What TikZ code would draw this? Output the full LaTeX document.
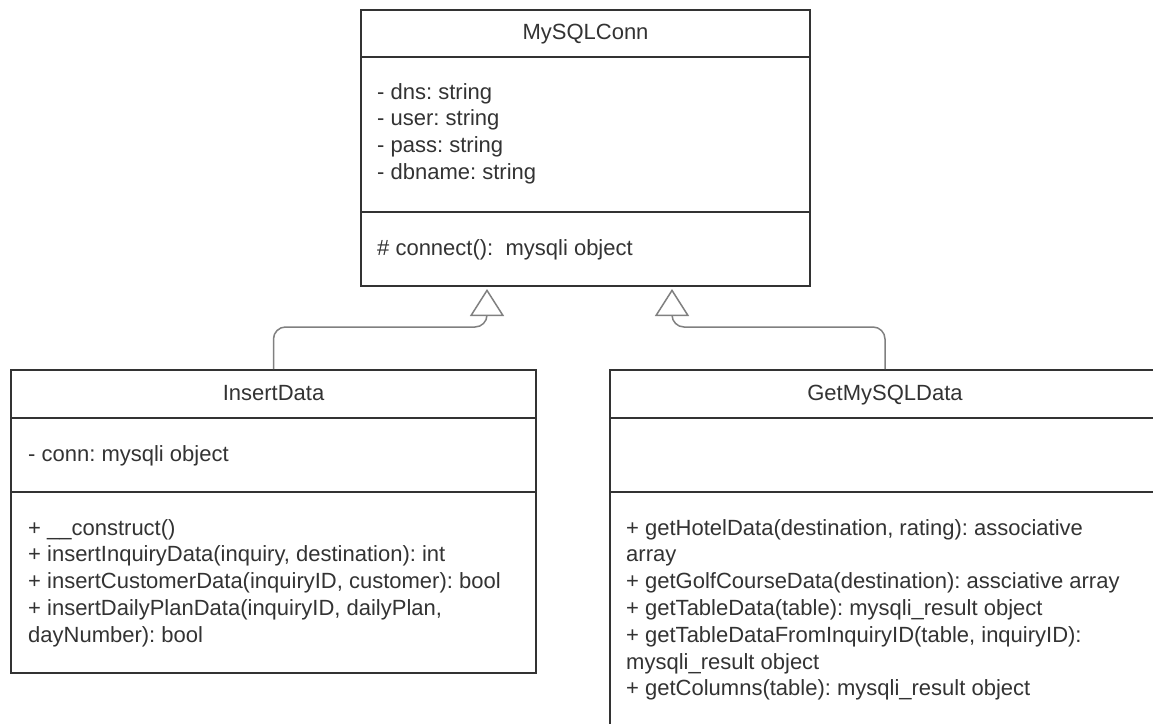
\documentclass[tikz,border=0pt]{standalone}
\usepackage{fontspec}
\setmainfont{Liberation Sans}
\usetikzlibrary{arrows.meta}
\frenchspacing
\definecolor{boxline}{HTML}{333333}
\definecolor{connline}{HTML}{808080}
\definecolor{txtcol}{HTML}{333333}
\tikzset{
  classbox/.style={rectangle, draw=boxline, line width=2pt, fill=white, inner sep=0pt},
  sepline/.style={draw=boxline, line width=2pt},
  txt/.style={text=txtcol, font=\fontsize{22}{26.8}\selectfont\frenchspacing, inner sep=0pt, anchor=base west},
  title/.style={text=txtcol, font=\fontsize{22}{26.8}\selectfont, inner sep=0pt, anchor=base},
  inherit/.style={draw=connline, line width=1.5pt, rounded corners=12pt,
    -{Triangle[width=34pt, length=27pt, fill=white, line width=1.5pt]}},
}
\begin{document}
\begin{tikzpicture}[x=1pt,y=-1pt]
\useasboundingbox (0,0) rectangle (1153,723);
\clip (0,0) rectangle (1153,723);
\fill[white] (0,0) rectangle (1153,723);

% MySQLConn
\node[classbox, minimum width=449pt, minimum height=276pt] (conn) at (585.5,148) {};
\draw[sepline] (conn.west |- 0,57) -- (conn.east |- 0,57);
\draw[sepline] (conn.west |- 0,212) -- (conn.east |- 0,212);
\node[title] (conntitle) at (585.5,39.5) {MySQLConn};
\foreach \t [count=\i from 0] in {{- dns: string},{- user: string},{- pass: string},{- dbname: string}}
  \node[txt] (conna\i) at (377,{99+26.8*\i}) {\t};
\node[txt] (connm0) at (377,255) {\#~connect():~~mysqli object};

% InsertData
\node[classbox, minimum width=525pt, minimum height=303pt] (ins) at (273.5,521.5) {};
\draw[sepline] (ins.west |- 0,418) -- (ins.east |- 0,418);
\draw[sepline] (ins.west |- 0,492) -- (ins.east |- 0,492);
\node[title] (institle) at (273.5,400) {InsertData};
\node[txt] (insa0) at (28,461) {- conn: mysqli object};
\foreach \t [count=\i from 0] in {{+ \_\_construct()},{+ insertInquiryData(inquiry, destination): int},{+ insertCustomerData(inquiryID, customer): bool},{+ insertDailyPlanData(inquiryID, dailyPlan,},{dayNumber): bool}}
  \node[txt] (insm\i) at (28,{535+26.8*\i}) {\t};

% GetMySQLData
\node[classbox, minimum width=550pt, minimum height=390pt] (get) at (885,565) {};
\draw[sepline] (get.west |- 0,418) -- (get.east |- 0,418);
\draw[sepline] (get.west |- 0,492) -- (get.east |- 0,492);
\node[title] (gettitle) at (885,400) {GetMySQLData};
\foreach \t [count=\i from 0] in {{+ getHotelData(destination, rating): associative},{array},{+ getGolfCourseData(destination): assciative array},{+ getTableData(table): mysqli\_result object},{+ getTableDataFromInquiryID(table, inquiryID):},{mysqli\_result object},{+ getColumns(table): mysqli\_result object}}
  \node[txt] (getm\i) at (626,{535+26.8*\i}) {\t};

% inheritance connectors
\draw[inherit] (ins.north) -- ++(0,-42) -| ([xshift=127pt, yshift=-2pt]conn.south west);
\draw[inherit] (get.north) -- ++(0,-42) -| ([xshift=312pt, yshift=-2pt]conn.south west);
\end{tikzpicture}
\end{document}
